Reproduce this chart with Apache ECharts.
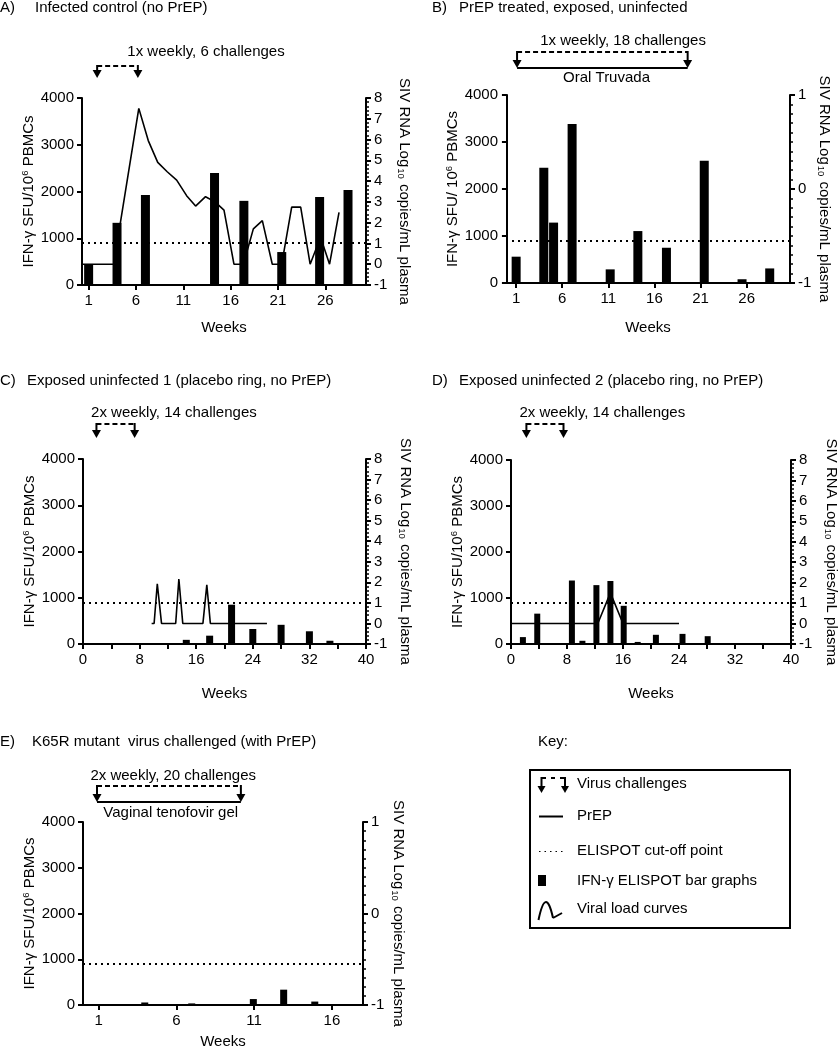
<!DOCTYPE html>
<html><head><meta charset="utf-8">
<script src="https://cdn.jsdelivr.net/npm/echarts@6/dist/echarts.min.js"></script>
<style>html,body{margin:0;padding:0;background:#fff}#c{width:840px;height:1050px}</style>
</head><body><div id="c"></div>
<script>
const FONT = '"Liberation Sans", Arial, Helvetica, sans-serif';
const FS = 15;
const CUTOFF = 900;

// ---- Panel A: Infected control ----
const weeksA = [1, 4, 7, 14.3, 17.4, 21.4, 25.4, 28.4];
const elispotA = [450, 1330, 1925, 2395, 1800, 705, 1880, 2030];
const vlWeeksA = [0.3, 3.65, 6.3, 7.3, 8.3, 9.3, 10.3, 11.35, 12.3, 13.35, 14.35, 15.3, 16.35, 17.35, 18.4, 19.35, 20.4, 21.4, 22.45, 23.4, 24.4, 25.5, 26.45, 27.45];
const vlA = [0, 0, 7.5, 5.95, 4.9, 4.45, 4.05, 3.3, 2.8, 3.25, 3.0, 2.6, 0, 0, 1.7, 2.1, 0, 0, 2.75, 2.75, 0, 1.3, 0, 2.5];

// ---- Panel B: PrEP treated, exposed, uninfected ----
const weeksB = [1, 4, 5.06, 7.07, 11.2, 14.2, 17.3, 21.4, 25.5, 28.5];
const elispotB = [560, 2450, 1285, 3385, 290, 1105, 750, 2600, 80, 310];

// ---- Panel C: Exposed uninfected 1 ----
const weeksC = [14.6, 17.9, 21.0, 24.0, 28.0, 32.0, 34.9];
const elispotC = [90, 180, 850, 325, 415, 275, 70];
const vlWeeksC = [9.7, 10.05, 10.5, 11.1, 13.1, 13.55, 14.1, 16.95, 17.5, 18.0, 26.0];
const vlC = [0, 0, 1.93, 0, 0, 2.16, 0, 0, 1.88, 0, 0];

// ---- Panel D: Exposed uninfected 2 ----
const weeksD = [1.7, 3.75, 8.7, 10.2, 12.2, 14.2, 16.1, 18.1, 20.7, 24.5, 28.1];
const elispotD = [150, 660, 1380, 70, 1280, 1370, 830, 45, 200, 220, 170];
const vlWeeksD = [0, 12.4, 14.2, 16.0, 24.0];
const vlD = [0, 0, 1.5, 0, 0];

// ---- Panel E: K65R mutant virus challenged ----
const weeksE = [3.97, 6.99, 10.95, 12.9, 14.9];
const elispotE = [55, 35, 130, 335, 75];

// ---- Challenge periods [start week, end week, label week, PrEP label week] ----
const challengeA = [1.9, 6.2, 13.4, 0];
const challengeB = [1.1, 19.6, 12.6, 10.8];
const challengeC = [1.9, 7.3, 12.85, 0];
const challengeD = [2.2, 7.5, 13.05, 0];
const challengeE = [0.9, 10.15, 5.8, 5.64];

const labelsAB = [1, 6, 11, 16, 21, 26];
const ticksCD = [0, 4, 8, 12, 16, 20, 24, 28, 32, 36, 40];
const labelsCD = [0, 8, 16, 24, 32, 40];
const labelsE = [1, 6, 11, 16];

const pairs = (xs, ys) => xs.map((x, i) => [x, ys[i]]);
const plain = v => String(v);

const grids = [
  {left: 82, top: 98, width: 284, height: 187},
  {left: 506, top: 95, width: 284, height: 188},
  {left: 83, top: 459, width: 283, height: 185},
  {left: 511, top: 460, width: 282, height: 184},
  {left: 83, top: 822, width: 280, height: 185}
];

const txt = {color: '#000', fontFamily: FONT, fontSize: FS};
function xAx(gi, min, max, ticks, labels, gap) {
  return {type: 'value', gridIndex: gi, min, max, name: 'Weeks', nameLocation: 'middle', nameGap: gap,
    nameTextStyle: Object.assign({}, txt),
    axisLine: {show: true, onZero: false, lineStyle: {color: '#000', width: 2}},
    axisTick: {show: true, customValues: ticks, length: 5, lineStyle: {color: '#000', width: 2}},
    axisLabel: Object.assign({customValues: labels, margin: 8, formatter: plain}, txt),
    splitLine: {show: false}};
}
function yLeft(gi, gap, spaced) {
  return {type: 'value', gridIndex: gi, position: 'left', min: 0, max: 4000, interval: 1000,
    name: spaced ? '{a|IFN-γ SFU/ 10}{s|6}{a| PBMCs}' : '{a|IFN-γ SFU/10}{s|6}{a| PBMCs}',
    nameLocation: 'middle', nameRotate: 90, nameGap: gap,
    nameTextStyle: Object.assign({rich: {a: Object.assign({lineHeight: 17}, txt), s: {color: '#000', fontFamily: FONT, fontSize: 9.5, lineHeight: 17, verticalAlign: 'top', padding: [0, 0, 5, 0]}}}, txt),
    axisLine: {show: true, lineStyle: {color: '#000', width: 2}},
    axisTick: {show: true, length: 5, lineStyle: {color: '#000', width: 2}},
    axisLabel: Object.assign({margin: 8, formatter: plain}, txt),
    splitLine: {show: false}};
}
function yRight(gi, max, minorSplit, gap) {
  return {type: 'value', gridIndex: gi, position: 'right', min: -1, max, interval: 1,
    name: '{a|SIV RNA Log}{s|10}{a| copies/mL plasma}',
    nameLocation: 'middle', nameRotate: -90, nameGap: gap,
    nameTextStyle: Object.assign({rich: {a: Object.assign({lineHeight: 17}, txt), s: {color: '#000', fontFamily: FONT, fontSize: 9.5, lineHeight: 17, verticalAlign: 'bottom', padding: [4, 1, 0, 1]}}}, txt),
    axisLine: {show: true, lineStyle: {color: '#000', width: 2}},
    axisTick: {show: true, length: 5, lineStyle: {color: '#000', width: 2}},
    minorTick: {show: true, splitNumber: minorSplit, length: 3, lineStyle: {color: '#000', width: 1.5}},
    axisLabel: Object.assign({margin: 8, formatter: plain}, txt),
    splitLine: {show: false}, minorSplitLine: {show: false}};
}

function barSeries(gi, xs, ys, w) {
  return {type: 'bar', xAxisIndex: gi, yAxisIndex: gi * 2, data: pairs(xs, ys), barWidth: w,
    itemStyle: {color: '#000'}, silent: true, z: 3,
    markLine: {silent: true, symbol: 'none', label: {show: false}, animation: false,
      lineStyle: {type: [2, 4], color: '#000', width: 2}, data: [{yAxis: CUTOFF}]}};
}
function lineSeries(gi, xs, ys) {
  return {type: 'line', xAxisIndex: gi, yAxisIndex: gi * 2 + 1, data: pairs(xs, ys), symbol: 'none',
    lineStyle: {color: '#000', width: 1.6}, silent: true, z: 4, animation: false};
}
function challengeSeries(gi, ch, o) {
  return {type: 'custom', xAxisIndex: gi, yAxisIndex: gi * 2, clip: false, silent: true, animation: false,
    data: [[ch[0], ch[1], ch[2], ch[3], 0]], encode: {x: [0, 1], y: 4},
    renderItem: function (params, api) {
      const top = params.coordSys.y;
      const x1 = api.coord([api.value(0), 0])[0];
      const x2 = api.coord([api.value(1), 0])[0];
      const xt = api.coord([api.value(2), 0])[0];
      const yD = top + o.dashDy, yT = top + o.tipDy;
      const ch = [];
      ch.push({type: 'line', shape: {x1: x1, y1: yD, x2: x2, y2: yD}, style: {stroke: '#000', lineWidth: 2, lineDash: [5, 3]}});
      [x1, x2].forEach(function (x) {
        ch.push({type: 'line', shape: {x1: x, y1: yD - 1, x2: x, y2: yT - 6}, style: {stroke: '#000', lineWidth: 2}});
        ch.push({type: 'polygon', shape: {points: [[x - 4.5, yT - 8], [x + 4.5, yT - 8], [x, yT]]}, style: {fill: '#000'}});
      });
      ch.push({type: 'text', style: {text: o.text, x: xt, y: top + o.textDy, align: 'center', verticalAlign: 'middle', fontSize: FS, fontFamily: FONT, fill: '#000'}});
      if (o.prep) {
        const xp = api.coord([api.value(3), 0])[0];
        ch.push({type: 'line', shape: {x1: x1, y1: yT, x2: x2, y2: yT}, style: {stroke: '#000', lineWidth: 2}});
        ch.push({type: 'text', style: {text: o.prep, x: xp, y: top + o.prepDy, align: 'center', verticalAlign: 'middle', fontSize: FS, fontFamily: FONT, fill: '#000'}});
      }
      return {type: 'group', children: ch};
    }};
}

function titleText(x, y, letter, text, tx) {
  return [
    {type: 'text', left: x, top: y, style: {text: letter, fontSize: FS, fontFamily: FONT, fill: '#000'}},
    {type: 'text', left: tx, top: y, style: {text: text, fontSize: FS, fontFamily: FONT, fill: '#000'}}
  ];
}

const keyTX = 577;
const graphics = [].concat(
  titleText(0, 0, 'A)', 'Infected control (no PrEP)', 35),
  titleText(432, 0, 'B)', 'PrEP treated, exposed, uninfected', 459),
  titleText(0, 373, 'C)', 'Exposed uninfected 1 (placebo ring, no PrEP)', 27),
  titleText(432, 373, 'D)', 'Exposed uninfected 2 (placebo ring, no PrEP)', 459),
  titleText(0, 734, 'E)', 'K65R mutant  virus challenged (with PrEP)', 32),
  [
    {type: 'text', left: 538, top: 734, style: {text: 'Key:', fontSize: FS, fontFamily: FONT, fill: '#000'}},
    {type: 'rect', shape: {x: 530, y: 770, width: 260, height: 158}, style: {fill: 'none', stroke: '#000', lineWidth: 2}},
    // virus challenge icon
    {type: 'polyline', shape: {points: [[541.5, 790], [541.5, 778], [546, 778]]}, style: {stroke: '#000', lineWidth: 2, fill: 'none'}},
    {type: 'line', shape: {x1: 551, y1: 778, x2: 555, y2: 778}, style: {stroke: '#000', lineWidth: 2}},
    {type: 'polyline', shape: {points: [[560, 778], [565, 778], [565, 790]]}, style: {stroke: '#000', lineWidth: 2, fill: 'none'}},
    {type: 'polygon', shape: {points: [[537.5, 786], [545.5, 786], [541.5, 793]]}, style: {fill: '#000'}},
    {type: 'polygon', shape: {points: [[561, 786], [569, 786], [565, 793]]}, style: {fill: '#000'}},
    {type: 'text', left: keyTX, top: 776, style: {text: 'Virus challenges', fontSize: FS, fontFamily: FONT, fill: '#000'}},
    // PrEP
    {type: 'line', shape: {x1: 539, y1: 816.5, x2: 563, y2: 816.5}, style: {stroke: '#000', lineWidth: 2}},
    {type: 'text', left: keyTX, top: 808, style: {text: 'PrEP', fontSize: FS, fontFamily: FONT, fill: '#000'}},
    // cutoff
    {type: 'line', shape: {x1: 539, y1: 851.5, x2: 565, y2: 851.5}, style: {stroke: '#000', lineWidth: 1, lineDash: [1.5, 4]}},
    {type: 'text', left: keyTX, top: 843, style: {text: 'ELISPOT cut-off point', fontSize: FS, fontFamily: FONT, fill: '#000'}},
    // bar
    {type: 'rect', shape: {x: 538, y: 875, width: 8, height: 11}, style: {fill: '#000'}},
    {type: 'text', left: keyTX, top: 873, style: {text: 'IFN-γ ELISPOT bar graphs', fontSize: FS, fontFamily: FONT, fill: '#000'}},
    // curve
    {type: 'bezierCurve', shape: {x1: 538.5, y1: 920, cpx1: 543, cpy1: 898, cpx2: 548, cpy2: 895, x2: 553, y2: 918}, style: {stroke: '#000', lineWidth: 2, fill: 'none'}},
    {type: 'line', shape: {x1: 553, y1: 918, x2: 562, y2: 913}, style: {stroke: '#000', lineWidth: 2}},
    {type: 'text', left: keyTX, top: 901, style: {text: 'Viral load curves', fontSize: FS, fontFamily: FONT, fill: '#000'}}
  ]
);

const option = {
  backgroundColor: '#fff',
  animation: false,
  textStyle: {fontFamily: FONT, color: '#000'},
  grid: grids,
  xAxis: [
    xAx(0, 0.3, 30.3, labelsAB, labelsAB, 35),
    xAx(1, -0.1, 30.7, labelsAB, labelsAB, 37),
    xAx(2, 0, 40, ticksCD, labelsCD, 42),
    xAx(3, 0, 40, ticksCD, labelsCD, 42),
    xAx(4, 0, 18, labelsE, labelsE, 29)
  ],
  yAxis: [
    yLeft(0, 44, false), yRight(0, 8, 5, 30),
    yLeft(1, 43, true), yRight(1, 1, 10, 24),
    yLeft(2, 42, false), yRight(2, 8, 5, 31),
    yLeft(3, 38, false), yRight(3, 8, 5, 32),
    yLeft(4, 42, false), yRight(4, 1, 10, 27)
  ],
  series: [
    barSeries(0, weeksA, elispotA, 9),
    lineSeries(0, vlWeeksA, vlA),
    challengeSeries(0, challengeA, {text: '1x weekly, 6 challenges', textDy: -46, dashDy: -32, tipDy: -20}),
    barSeries(1, weeksB, elispotB, 9),
    challengeSeries(1, challengeB, {text: '1x weekly, 18 challenges', textDy: -54, dashDy: -43, tipDy: -27, prep: 'Oral Truvada', prepDy: -17}),
    barSeries(2, weeksC, elispotC, 7),
    lineSeries(2, vlWeeksC, vlC),
    challengeSeries(2, challengeC, {text: '2x weekly, 14 challenges', textDy: -46, dashDy: -35, tipDy: -21}),
    barSeries(3, weeksD, elispotD, 6),
    lineSeries(3, vlWeeksD, vlD),
    challengeSeries(3, challengeD, {text: '2x weekly, 14 challenges', textDy: -47, dashDy: -36, tipDy: -22}),
    barSeries(4, weeksE, elispotE, 7),
    challengeSeries(4, challengeE, {text: '2x weekly, 20 challenges', textDy: -46, dashDy: -36, tipDy: -20, prep: 'Vaginal tenofovir gel', prepDy: -9})
  ],
  graphic: graphics
};

const chart = echarts.init(document.getElementById('c'), null, {renderer: 'canvas'});
chart.setOption(option);
</script>
</body></html>
